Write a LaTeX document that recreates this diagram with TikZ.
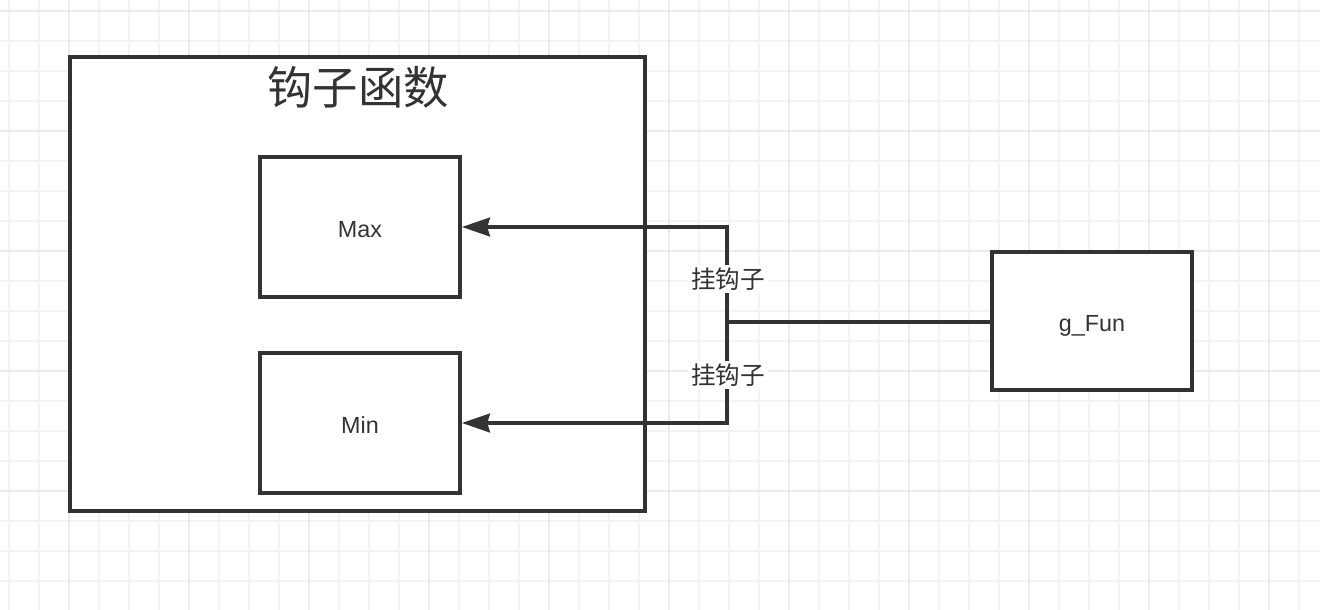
\documentclass[tikz,border=0pt]{standalone}
\usepackage{fontspec}
\setmainfont{Liberation Sans}
\newfontfamily\cjk{Noto Sans CJK SC}
\usetikzlibrary{arrows.meta}
\definecolor{ink}{HTML}{333333}
\definecolor{gridminor}{HTML}{F3F3F3}
\definecolor{gridmajor}{HTML}{EBEBEB}
\newcommand{\lowtext}[1]{\smash{\raisebox{-7.9pt}{#1}}}
\tikzset{
  box/.style={draw=ink, line width=2.8pt, fill=white, minimum width=150pt, minimum height=105pt, inner sep=0pt, font=\fontsize{17.5}{20}\selectfont, text=ink},
  conn/.style={draw=ink, line width=2.8pt},
  arr/.style={conn, -{Stealth[length=21pt, width=14pt, inset=2pt]}},
  hooklabel/.style={fill=white, inner sep=2pt, font=\cjk\fontsize{18.5}{22}\selectfont, text=ink},
}
\begin{document}
\begin{tikzpicture}[x=0.75pt, y=-0.75pt]
\useasboundingbox (0,0) rectangle (1320,610);
\fill[white] (0,0) rectangle (1320,610);
% grid
\foreach \x in {9,39,...,1320} \draw[gridminor, line width=1.5pt] (\x,0) -- (\x,610);
\foreach \y in {11,41,...,610} \draw[gridminor, line width=1.5pt] (0,\y) -- (1320,\y);
\foreach \x in {69,189,...,1320} \draw[gridmajor, line width=1.5pt] (\x,0) -- (\x,610);
\foreach \y in {11,131,...,610} \draw[gridmajor, line width=1.5pt] (0,\y) -- (1320,\y);
% outer container
\node[draw=ink, line width=2.8pt, fill=white, minimum width=431.25pt, minimum height=340.5pt, inner sep=0pt] (outer) at (357.5,284) {};
\node[font=\cjk\fontsize{34}{40}\selectfont, text=ink] (title) at (358,87) {钩子函数};
% boxes
\node[box] (max) at (360,227) {\lowtext{Max}};
\node[box] (min) at (360,423) {\lowtext{Min}};
\node[box, minimum height=103.5pt] (gfun) at (1092,321) {\lowtext{g\_Fun}};
% connectors
\coordinate (j) at (727,322);
\draw[conn] (gfun.west |- j) -- (j);
\draw[arr] (j) |- (max.east);
\draw[arr] (j) |- (min.east);
\node[hooklabel] (l1) at (728,279) {挂钩子};
\node[hooklabel] (l2) at (728,375) {挂钩子};
\end{tikzpicture}
\end{document}
